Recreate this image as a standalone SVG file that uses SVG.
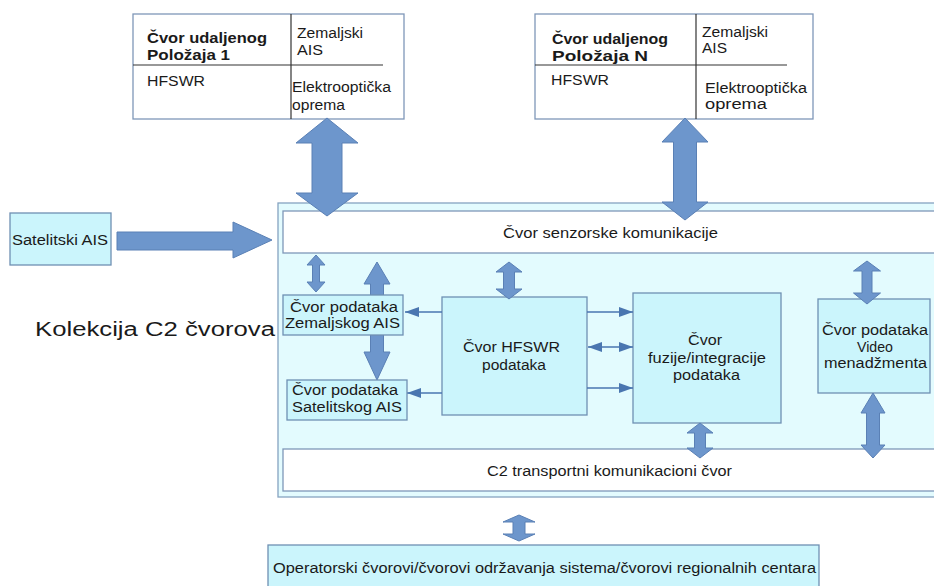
<svg xmlns="http://www.w3.org/2000/svg" width="934" height="586" viewBox="0 0 934 586">
<style>
text{font-family:"Liberation Sans",Arial,sans-serif;font-size:14px;fill:#1a1a1a}
.b{font-weight:bold;font-size:14.5px}
.big{font-size:20px}
.white{fill:#ffffff;stroke:#7f97b8;stroke-width:1.3}
.cyan{fill:#cbf5fc;stroke:#6f90b3;stroke-width:1.3}
.cont{fill:#e3fbfe;stroke:#86a3c0;stroke-width:1.3}
.div{stroke:#333;stroke-width:1.2;fill:none}
.blk{fill:#6d96cc;stroke:#5a80b5;stroke-width:1}
.thin{stroke:#4a76b0;stroke-width:1.5;fill:none}
</style>
<defs>
<marker id="ah" markerWidth="14" markerHeight="10" refX="14" refY="5" orient="auto-start-reverse" markerUnits="userSpaceOnUse">
<path d="M0,0 L14,5 L0,10 z" fill="#4a76b0"/>
</marker>
</defs>

<g id="container">
<rect class="cont" x="278" y="203" width="670" height="294"/>
</g>

<g id="label-kolekcija">
<text class="big" x="35" y="336" textLength="240" lengthAdjust="spacingAndGlyphs">Kolekcija C2 čvorova</text>
</g>

<g id="node-polozaj-1">
<rect class="white" x="133" y="14" width="271" height="105"/>
<line class="div" x1="291" y1="14" x2="291" y2="119"/>
<line class="div" x1="133" y1="65" x2="383" y2="65"/>
<text class="b" x="147" y="43" textLength="120" lengthAdjust="spacingAndGlyphs">Čvor udaljenog</text>
<text class="b" x="147" y="60" textLength="83" lengthAdjust="spacingAndGlyphs">Položaja  1</text>
<text x="297" y="38" textLength="66" lengthAdjust="spacingAndGlyphs">Zemaljski</text>
<text x="297" y="55" textLength="26" lengthAdjust="spacingAndGlyphs">AIS</text>
<text x="147" y="86" textLength="58" lengthAdjust="spacingAndGlyphs">HFSWR</text>
<text x="292" y="92" textLength="99" lengthAdjust="spacingAndGlyphs">Elektrooptička</text>
<text x="292" y="110" textLength="53" lengthAdjust="spacingAndGlyphs">oprema</text>
</g>

<g id="node-polozaj-n">
<rect class="white" x="535" y="14" width="278" height="105"/>
<line class="div" x1="696" y1="14" x2="696" y2="119"/>
<line class="div" x1="535" y1="65" x2="787" y2="65"/>
<text class="b" x="552" y="44" textLength="116" lengthAdjust="spacingAndGlyphs">Čvor udaljenog</text>
<text class="b" x="552" y="61" textLength="96" lengthAdjust="spacingAndGlyphs">Položaja N</text>
<text x="702" y="37" textLength="66" lengthAdjust="spacingAndGlyphs">Zemaljski</text>
<text x="702" y="53" textLength="25" lengthAdjust="spacingAndGlyphs">AIS</text>
<text x="551" y="85" textLength="58" lengthAdjust="spacingAndGlyphs">HFSWR</text>
<text x="705" y="93" textLength="102" lengthAdjust="spacingAndGlyphs">Elektrooptička</text>
<text x="705" y="109" textLength="62" lengthAdjust="spacingAndGlyphs">oprema</text>
</g>

<g id="node-satelitski-ais">
<rect class="cyan" x="10" y="213" width="101" height="52"/>
<text x="12" y="245" textLength="96" lengthAdjust="spacingAndGlyphs">Satelitski AIS</text>
</g>

<g id="node-senzorske">
<rect class="white" x="283" y="211" width="660" height="42"/>
<text x="503" y="238" textLength="215" lengthAdjust="spacingAndGlyphs">Čvor senzorske komunikacije</text>
</g>

<g id="node-hfswr">
<rect class="cyan" x="442" y="297" width="145" height="118"/>
<text x="463" y="352" textLength="97" lengthAdjust="spacingAndGlyphs">Čvor HFSWR</text>
<text x="482" y="370" textLength="64" lengthAdjust="spacingAndGlyphs">podataka</text>
</g>

<g id="node-fuzija">
<rect class="cyan" x="633" y="293" width="148" height="130"/>
<text x="688" y="345" textLength="34" lengthAdjust="spacingAndGlyphs">Čvor</text>
<text x="648" y="363" textLength="118" lengthAdjust="spacingAndGlyphs">fuzije/integracije</text>
<text x="673" y="380" textLength="67" lengthAdjust="spacingAndGlyphs">podataka</text>
</g>

<g id="node-video">
<rect class="cyan" x="818" y="299" width="112" height="94"/>
<text x="822" y="335" textLength="106" lengthAdjust="spacingAndGlyphs">Čvor podataka</text>
<text x="857" y="352" textLength="36" lengthAdjust="spacingAndGlyphs">Video</text>
<text x="824" y="368" textLength="103" lengthAdjust="spacingAndGlyphs">menadžmenta</text>
</g>

<g id="node-transport">
<rect class="white" x="283" y="449" width="660" height="42"/>
<text x="487" y="476" textLength="245" lengthAdjust="spacingAndGlyphs">C2 transportni komunikacioni čvor</text>
</g>

<g id="node-operatorski">
<rect class="cyan" x="268" y="545" width="551" height="50"/>
<text x="273" y="573" textLength="543" lengthAdjust="spacingAndGlyphs">Operatorski čvorovi/čvorovi održavanja sistema/čvorovi regionalnih centara</text>
</g>

<g id="connectors">
<polygon class="blk" points="327,118 358,143 342,143 342,193 358,193 327,216 296,193 312,193 312,143 296,143"/>
<polygon class="blk" points="685,118 708,142 696.5,142 696.5,202 708,202 685,220 662,202 673.5,202 673.5,142 662,142"/>
<polygon class="blk" points="117,232 233,232 233,222 272,240 233,258 233,250 117,250"/>
<polygon class="blk" points="316,255 325,265 319.5,265 319.5,282 325,282 316,292 307,282 312.5,282 312.5,265 307,265"/>
<polygon class="blk" points="377,262 390,284 383.5,284 383.5,296 370.5,296 370.5,284 364,284"/>
<polygon class="blk" points="383.5,334 383.5,352 390,352 377,380 364,352 370.5,352 370.5,334"/>
<polygon class="blk" points="509,262 522,272 514.5,272 514.5,289 522,289 509,299 496,289 503.5,289 503.5,272 496,272"/>
<polygon class="blk" points="867,261 880.5,271 872,271 872,293 880.5,293 867,304 853.5,293 862,293 862,271 853.5,271"/>
<polygon class="blk" points="700,423 713,433 705.5,433 705.5,448 713,448 700,458 687,448 694.5,448 694.5,433 687,433"/>
<polygon class="blk" points="873,393 885,413 879.5,413 879.5,445 885,445 873,458 861,445 866.5,445 866.5,413 861,413"/>
<polygon class="blk" points="519,515 535,522 525,522 525,534 535,534 519,541 503,534 513,534 513,522 503,522"/>
<line class="thin" x1="442" y1="312" x2="405" y2="312" marker-end="url(#ah)"/>
<line class="thin" x1="442" y1="393" x2="407" y2="393" marker-end="url(#ah)"/>
<line class="thin" x1="587" y1="312" x2="633" y2="312" marker-end="url(#ah)"/>
<line class="thin" x1="588" y1="347" x2="633" y2="347" marker-start="url(#ah)" marker-end="url(#ah)"/>
<line class="thin" x1="587" y1="388" x2="633" y2="388" marker-end="url(#ah)"/>
</g>

<g id="node-zemaljskog-ais">
<rect class="cyan" x="283" y="295" width="120" height="40"/>
<text x="290" y="312" textLength="108" lengthAdjust="spacingAndGlyphs">Čvor podataka</text>
<text x="285" y="328" textLength="115" lengthAdjust="spacingAndGlyphs">Zemaljskog AIS</text>
</g>

<g id="node-satelitskog-ais">
<rect class="cyan" x="287" y="380" width="120" height="40"/>
<text x="292" y="395" textLength="106" lengthAdjust="spacingAndGlyphs">Čvor podataka</text>
<text x="292" y="412" textLength="110" lengthAdjust="spacingAndGlyphs">Satelitskog AIS</text>
</g>
</svg>
